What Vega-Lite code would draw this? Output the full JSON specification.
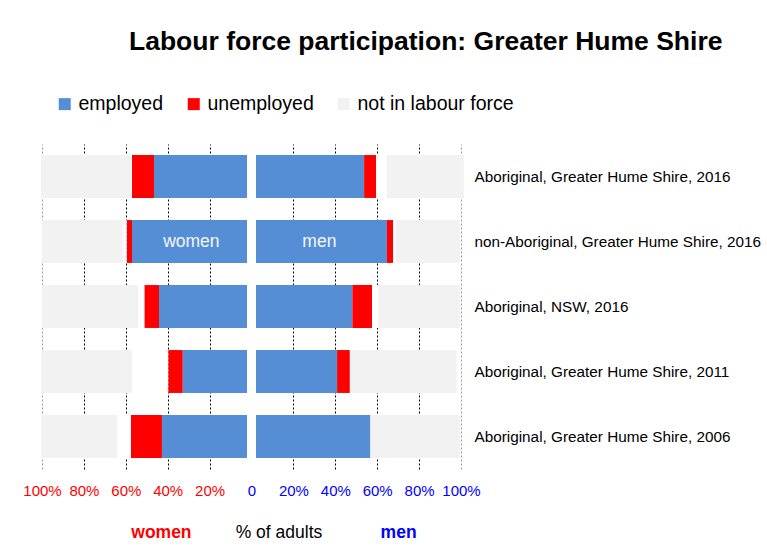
{
  "$schema": "https://vega.github.io/schema/vega-lite/v6.json",
  "padding": {"left": 22, "top": 28, "right": 0, "bottom": 0},
  "title": {
    "text": "Labour force participation: Greater Hume Shire",
    "font": "Liberation Sans",
    "fontSize": 26.5,
    "fontWeight": "bold",
    "color": "#000000",
    "anchor": "start",
    "frame": "group",
    "dx": 87,
    "offset": 39
  },
  "config": {
    "font": "Liberation Sans",
    "view": {"stroke": null}
  },
  "spacing": 25,
  "vconcat": [
    {
      "width": 419,
      "height": 325,
      "layer": [
        {
          "data": {
            "values": [
              {"row": "Aboriginal, Greater Hume Shire, 2016", "cat": "gap", "v": -2.15},
              {"row": "Aboriginal, Greater Hume Shire, 2016", "cat": "employed", "v": -44.4},
              {"row": "Aboriginal, Greater Hume Shire, 2016", "cat": "unemployed", "v": -10.5},
              {"row": "Aboriginal, Greater Hume Shire, 2016", "cat": "not stated", "v": -0.5},
              {"row": "Aboriginal, Greater Hume Shire, 2016", "cat": "not in labour force", "v": -43.0},
              {"row": "Aboriginal, Greater Hume Shire, 2016", "cat": "gap", "v": 2.15},
              {"row": "Aboriginal, Greater Hume Shire, 2016", "cat": "employed", "v": 51.6},
              {"row": "Aboriginal, Greater Hume Shire, 2016", "cat": "unemployed", "v": 5.7},
              {"row": "Aboriginal, Greater Hume Shire, 2016", "cat": "not stated", "v": 5.1},
              {"row": "Aboriginal, Greater Hume Shire, 2016", "cat": "not in labour force", "v": 36.8},

              {"row": "non-Aboriginal, Greater Hume Shire, 2016", "cat": "gap", "v": -2.15},
              {"row": "non-Aboriginal, Greater Hume Shire, 2016", "cat": "employed", "v": -54.9},
              {"row": "non-Aboriginal, Greater Hume Shire, 2016", "cat": "unemployed", "v": -2.5},
              {"row": "non-Aboriginal, Greater Hume Shire, 2016", "cat": "not stated", "v": -1.8},
              {"row": "non-Aboriginal, Greater Hume Shire, 2016", "cat": "not in labour force", "v": -38.7},
              {"row": "non-Aboriginal, Greater Hume Shire, 2016", "cat": "gap", "v": 2.15},
              {"row": "non-Aboriginal, Greater Hume Shire, 2016", "cat": "employed", "v": 62.5},
              {"row": "non-Aboriginal, Greater Hume Shire, 2016", "cat": "unemployed", "v": 3.0},
              {"row": "non-Aboriginal, Greater Hume Shire, 2016", "cat": "not stated", "v": 1.3},
              {"row": "non-Aboriginal, Greater Hume Shire, 2016", "cat": "not in labour force", "v": 30.5},

              {"row": "Aboriginal, NSW, 2016", "cat": "gap", "v": -2.15},
              {"row": "Aboriginal, NSW, 2016", "cat": "employed", "v": -42.0},
              {"row": "Aboriginal, NSW, 2016", "cat": "unemployed", "v": -7.0},
              {"row": "Aboriginal, NSW, 2016", "cat": "not stated", "v": -2.9},
              {"row": "Aboriginal, NSW, 2016", "cat": "not in labour force", "v": -46.0},
              {"row": "Aboriginal, NSW, 2016", "cat": "gap", "v": 2.15},
              {"row": "Aboriginal, NSW, 2016", "cat": "employed", "v": 46.0},
              {"row": "Aboriginal, NSW, 2016", "cat": "unemployed", "v": 9.4},
              {"row": "Aboriginal, NSW, 2016", "cat": "not stated", "v": 2.9},
              {"row": "Aboriginal, NSW, 2016", "cat": "not in labour force", "v": 39.1},

              {"row": "Aboriginal, Greater Hume Shire, 2011", "cat": "gap", "v": -2.15},
              {"row": "Aboriginal, Greater Hume Shire, 2011", "cat": "employed", "v": -30.7},
              {"row": "Aboriginal, Greater Hume Shire, 2011", "cat": "unemployed", "v": -6.9},
              {"row": "Aboriginal, Greater Hume Shire, 2011", "cat": "not stated", "v": -17.3},
              {"row": "Aboriginal, Greater Hume Shire, 2011", "cat": "not in labour force", "v": -43.4},
              {"row": "Aboriginal, Greater Hume Shire, 2011", "cat": "gap", "v": 2.15},
              {"row": "Aboriginal, Greater Hume Shire, 2011", "cat": "employed", "v": 38.7},
              {"row": "Aboriginal, Greater Hume Shire, 2011", "cat": "unemployed", "v": 6.1},
              {"row": "Aboriginal, Greater Hume Shire, 2011", "cat": "not stated", "v": 0},
              {"row": "Aboriginal, Greater Hume Shire, 2011", "cat": "not in labour force", "v": 51.0},

              {"row": "Aboriginal, Greater Hume Shire, 2006", "cat": "gap", "v": -2.15},
              {"row": "Aboriginal, Greater Hume Shire, 2006", "cat": "employed", "v": -40.6},
              {"row": "Aboriginal, Greater Hume Shire, 2006", "cat": "unemployed", "v": -14.8},
              {"row": "Aboriginal, Greater Hume Shire, 2006", "cat": "not stated", "v": -6.5},
              {"row": "Aboriginal, Greater Hume Shire, 2006", "cat": "not in labour force", "v": -36.4},
              {"row": "Aboriginal, Greater Hume Shire, 2006", "cat": "gap", "v": 2.15},
              {"row": "Aboriginal, Greater Hume Shire, 2006", "cat": "employed", "v": 54.6},
              {"row": "Aboriginal, Greater Hume Shire, 2006", "cat": "unemployed", "v": 0},
              {"row": "Aboriginal, Greater Hume Shire, 2006", "cat": "not stated", "v": 0},
              {"row": "Aboriginal, Greater Hume Shire, 2006", "cat": "not in labour force", "v": 42.8}
            ]
          },
          "transform": [
            {
              "lookup": "cat",
              "from": {
                "data": {"values": [
                  {"cat": "gap", "k": 0},
                  {"cat": "employed", "k": 1},
                  {"cat": "unemployed", "k": 2},
                  {"cat": "not stated", "k": 3},
                  {"cat": "not in labour force", "k": 4}
                ]},
                "key": "cat",
                "fields": ["k"]
              }
            }
          ],
          "mark": {"type": "bar"},
          "encoding": {
            "y": {
              "field": "row",
              "type": "nominal",
              "sort": [
                "Aboriginal, Greater Hume Shire, 2016",
                "non-Aboriginal, Greater Hume Shire, 2016",
                "Aboriginal, NSW, 2016",
                "Aboriginal, Greater Hume Shire, 2011",
                "Aboriginal, Greater Hume Shire, 2006"
              ],
              "scale": {"paddingInner": 0.34, "paddingOuter": 0.17},
              "axis": {
                "orient": "right",
                "title": null,
                "domain": false,
                "ticks": false,
                "grid": false,
                "labelPadding": 13,
                "labelFontSize": 15.3,
                "labelColor": "#000000",
                "labelFont": "Liberation Sans",
                "labelLimit": 400
              }
            },
            "x": {
              "field": "v",
              "type": "quantitative",
              "stack": "zero",
              "scale": {"domain": [-100, 100], "nice": false},
              "axis": {
                "values": [-100, -80, -60, -40, -20, 0, 20, 40, 60, 80, 100],
                "title": null,
                "domain": false,
                "ticks": false,
                "labelPadding": 14,
                "labelFontSize": 15,
                "labelFont": "Liberation Sans",
                "labelFlush": false,
                "labelOverlap": false,
                "labelExpr": "datum.value === 0 ? '0' : abs(datum.value) + '%'",
                "labelColor": {"condition": {"test": "datum.value < 0", "value": "#ff0000"}, "value": "#0000ff"},
                "grid": true,
                "gridDash": [2, 2],
                "gridWidth": 1,
                "gridColor": {"condition": [
                  {"test": "datum.value === 0", "value": "rgba(0,0,0,0)"},
                  {"test": "abs(datum.value) === 100", "value": "#999999"}
                ], "value": "#000000"}
              }
            },
            "order": {"field": "k", "type": "quantitative"},
            "color": {
              "field": "cat",
              "type": "nominal",
              "scale": {
                "domain": ["gap", "employed", "unemployed", "not stated", "not in labour force"],
                "range": ["#ffffff", "#558ed5", "#ff0000", "#ffffff", "#f2f2f2"]
              },
              "legend": {
                "values": ["employed", "unemployed", "not in labour force"],
                "title": null,
                "orient": "none",
                "legendX": 13,
                "legendY": -50,
                "direction": "horizontal",
                "symbolType": "square",
                "symbolSize": 144,
                "symbolStrokeWidth": 0,
                "labelFontSize": 19.5,
                "labelFont": "Liberation Sans",
                "labelColor": "#000000",
                "labelOffset": 4,
                "columnPadding": 20,
                "labelLimit": 300
              }
            }
          }
        },
        {
          "data": {"values": [{}]},
          "mark": {"type": "text", "color": "#f4f6ff", "fontSize": 17.5, "font": "Liberation Sans", "baseline": "middle", "align": "center"},
          "encoding": {
            "x": {"datum": -28.7, "type": "quantitative"},
            "y": {"datum": "non-Aboriginal, Greater Hume Shire, 2016", "type": "nominal"},
            "text": {"value": "women"}
          }
        },
        {
          "data": {"values": [{}]},
          "mark": {"type": "text", "color": "#f4f6ff", "fontSize": 17.5, "font": "Liberation Sans", "baseline": "middle", "align": "center"},
          "encoding": {
            "x": {"datum": 32.4, "type": "quantitative"},
            "y": {"datum": "non-Aboriginal, Greater Hume Shire, 2016", "type": "nominal"},
            "text": {"value": "men"}
          }
        }
      ]
    },
    {
      "width": 419,
      "height": 20,
      "layer": [
        {
          "data": {"values": [{}]},
          "mark": {"type": "text", "color": "#ff0000", "fontSize": 17.5, "fontWeight": "bold", "font": "Liberation Sans", "baseline": "middle", "align": "center"},
          "encoding": {
            "x": {"datum": -43, "type": "quantitative", "scale": {"domain": [-100, 100], "nice": false}, "axis": null},
            "text": {"value": "women"}
          }
        },
        {
          "data": {"values": [{}]},
          "mark": {"type": "text", "color": "#000000", "fontSize": 17.5, "font": "Liberation Sans", "baseline": "middle", "align": "center"},
          "encoding": {
            "x": {"datum": 13.1, "type": "quantitative"},
            "text": {"value": "% of adults"}
          }
        },
        {
          "data": {"values": [{}]},
          "mark": {"type": "text", "color": "#0000ff", "fontSize": 17.5, "fontWeight": "bold", "font": "Liberation Sans", "baseline": "middle", "align": "center"},
          "encoding": {
            "x": {"datum": 70.2, "type": "quantitative"},
            "text": {"value": "men"}
          }
        }
      ]
    }
  ]
}
